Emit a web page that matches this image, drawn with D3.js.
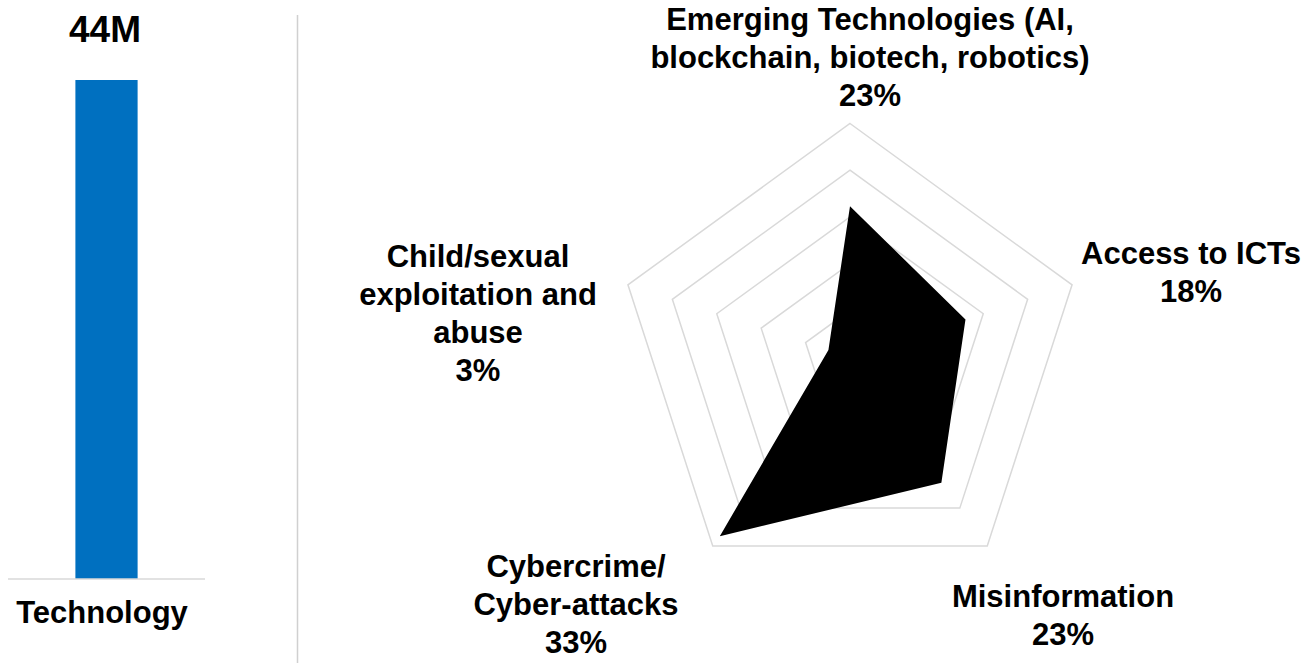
<!DOCTYPE html>
<html>
<head>
<meta charset="utf-8">
<script src="https://cdn.jsdelivr.net/npm/d3@7/dist/d3.min.js"></script>
<style>
  html, body { margin: 0; padding: 0; background: #fff; }
  svg { display: block; }
  text { font-family: "Liberation Sans", Arial, sans-serif; font-weight: bold; fill: #000; }
</style>
</head>
<body>
<svg id="chart" width="1306" height="663"></svg>
<script>
// ---- Data ----
const barCategories = ["Technology"];
const barValues = [44];
const barLabels = ["44M"];

const radarAxes = [
  ["Emerging Technologies (AI,", "blockchain, biotech, robotics)"],
  ["Access to ICTs"],
  ["Misinformation"],
  ["Cybercrime/", "Cyber-attacks"],
  ["Child/sexual", "exploitation and", "abuse"]
];
const radarValues = [22.6, 18.2, 23.3, 33.2, 3.4];
const radarPercentLabels = ["23%", "18%", "23%", "33%", "3%"];
const radarRingTicks = [7, 14, 21, 28, 35];

// ---- Layout ----
const svg = d3.select("#chart");

// Bar panel
const xBar = d3.scaleBand().domain(barCategories).range([8, 205]).paddingInner(0.52).paddingOuter(0.52);
const yBar = d3.scaleLinear().domain([0, 44]).range([579, 80]);

svg.selectAll("rect.bar").data(barValues).join("rect")
  .attr("class", "bar")
  .attr("x", (d, i) => xBar(barCategories[i]))
  .attr("width", xBar.bandwidth())
  .attr("y", d => yBar(d))
  .attr("height", d => yBar(0) - yBar(d))
  .attr("fill", "#0070C0");

svg.append("line")
  .attr("x1", 8).attr("x2", 205)
  .attr("y1", yBar(0)).attr("y2", yBar(0))
  .attr("stroke", "#d9d9d9").attr("stroke-width", 1.5);

svg.selectAll("text.barval").data(barValues).join("text")
  .attr("class", "barval")
  .attr("x", (d, i) => xBar(barCategories[i]) + xBar.bandwidth() / 2 - 1.5)
  .attr("y", d => yBar(d) - 38)
  .attr("text-anchor", "middle")
  .style("font-size", "37px")
  .text((d, i) => barLabels[i]);

svg.selectAll("text.barcat").data(barCategories).join("text")
  .attr("class", "barcat")
  .attr("x", d => xBar(d) + xBar.bandwidth() / 2 - 4.5)
  .attr("y", 623)
  .attr("text-anchor", "middle")
  .style("font-size", "31px")
  .text(d => d);

// Separator
svg.append("line")
  .attr("x1", 297.5).attr("x2", 297.5)
  .attr("y1", 15).attr("y2", 663)
  .attr("stroke", "#d0d0d0").attr("stroke-width", 1.5);

// Radar panel
const cx = 850, cy = 357, R = 233.5;
const rScale = d3.scaleLinear().domain([0, 35]).range([0, R]);
const n = radarAxes.length;
const angle = i => (i * 2 * Math.PI) / n; // 0 at top, clockwise

const radial = d3.lineRadial().angle((d, i) => angle(i)).radius(d => rScale(d)).curve(d3.curveLinearClosed);

const g = svg.append("g").attr("transform", `translate(${cx},${cy})`);

g.selectAll("path.ring").data(radarRingTicks).join("path")
  .attr("class", "ring")
  .attr("d", t => radial(d3.range(n).map(() => t)))
  .attr("fill", "none")
  .attr("stroke", "#d9d9d9")
  .attr("stroke-width", 1.5);

g.append("path")
  .datum(radarValues)
  .attr("d", radial)
  .attr("fill", "#000")
  .attr("stroke", "none");

// Axis labels: offset of first-line baseline relative to the radar centre
const labelOffsets = [
  { dx: 20, dy: -327 },
  { dx: 341, dy: -93 },
  { dx: 213, dy: 250 },
  { dx: -274, dy: 220 },
  { dx: -372, dy: -90 }
];
const lineH = 38;

radarAxes.forEach((lines, i) => {
  const t = g.append("text")
    .attr("text-anchor", "middle")
    .style("font-size", "31px")
    .attr("x", labelOffsets[i].dx)
    .attr("y", labelOffsets[i].dy);
  const all = lines.concat([radarPercentLabels[i]]);
  all.forEach((s, j) => {
    t.append("tspan")
      .attr("x", labelOffsets[i].dx)
      .attr("dy", j === 0 ? 0 : lineH)
      .text(s);
  });
});
</script>
</body>
</html>
